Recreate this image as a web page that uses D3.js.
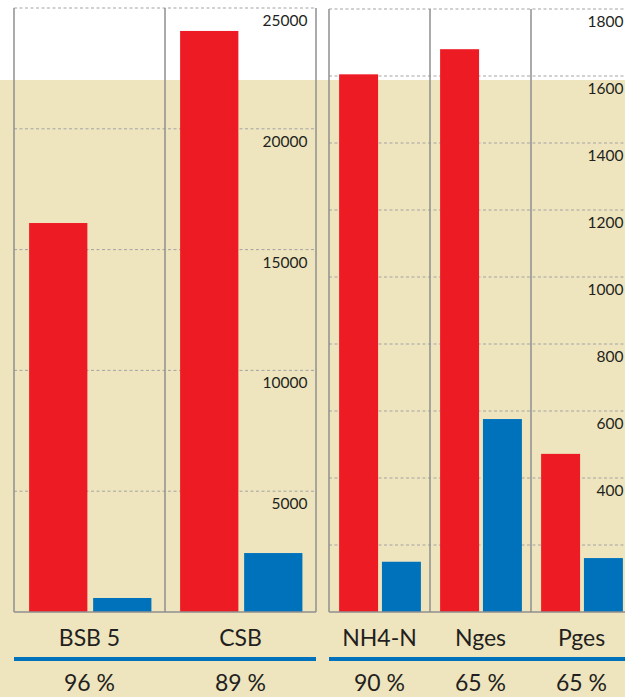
<!DOCTYPE html>
<html><head><meta charset="utf-8">
<script src="https://cdn.jsdelivr.net/npm/d3@7"></script>
<style>html,body{margin:0;padding:0;background:#fff;overflow:hidden}</style>
</head><body>
<svg id="c" width="625" height="697"></svg>
<script>
// ---- data ----
const series = ["Zulauf", "Ablauf"];
const categoriesLeft = ["BSB 5", "CSB"];
const inflowLeft = [16100, 24050];
const outflowLeft = [580, 2440];
const percentLeft = ["96 %", "89 %"];
const ticksLeft = [5000, 10000, 15000, 20000, 25000];
const tickLabelsLeft = [5000, 10000, 15000, 20000, 25000];

const categoriesRight = ["NH4-N", "Nges", "Pges"];
const inflowRight = [1605, 1680, 472];
const outflowRight = [150, 576, 161];
const percentRight = ["90 %", "65 %", "65 %"];
const ticksRight = [200, 400, 600, 800, 1000, 1200, 1400, 1600, 1800];
const tickLabelsRight = [400, 600, 800, 1000, 1200, 1400, 1600, 1800];

// ---- style ----
const W = 625, H = 697;
const beige = "#EEE5BE", red = "#ED1C24", blue = "#0072BC", frame = "#8f8f8f", grid = "#a3a3a3", ink = "#231F20";
const font = "Lato, 'Open Sans', sans-serif";
const y0 = 612;

const svg = d3.select("#c");
svg.append("rect").attr("x", 0).attr("y", 0).attr("width", W).attr("height", H).attr("fill", "#fff");
svg.append("rect").attr("x", 0).attr("y", 80).attr("width", W).attr("height", H - 80).attr("fill", beige);

function panel(cfg) {
  const g = svg.append("g");
  const x0 = d3.scaleBand().domain(cfg.cats).range([cfg.left, cfg.right]);
  const bw = x0.bandwidth();
  const x1 = d3.scaleBand().domain(series).range([0.1 * bw, 0.91 * bw]).paddingInner(0.09);
  const y = d3.scaleLinear().domain([0, cfg.max]).range([y0, cfg.top]);

  // gridlines
  g.append("g").selectAll("line").data(cfg.ticks).join("line")
    .attr("x1", cfg.left).attr("x2", cfg.right)
    .attr("y1", d => y(d)).attr("y2", d => y(d))
    .attr("stroke", grid).attr("stroke-width", 1).attr("stroke-dasharray", "3,2.5");

  // tick labels
  g.append("g").selectAll("text").data(cfg.labels).join("text")
    .attr("x", cfg.right - 8.5).attr("y", d => y(d) + 18)
    .attr("text-anchor", "end").attr("font-family", font).attr("font-size", 15.5)
    .attr("fill", ink).text(d => d);

  // bars
  const rows = cfg.cats.map((c, i) => ({ c, vals: [cfg.inflow[i], cfg.outflow[i]] }));
  const grp = g.append("g").selectAll("g").data(rows).join("g")
    .attr("transform", d => `translate(${x0(d.c)},0)`);
  grp.selectAll("rect").data(d => d.vals.map((v, j) => ({ s: series[j], v }))).join("rect")
    .attr("x", d => x1(d.s)).attr("width", x1.bandwidth())
    .attr("y", d => y(d.v)).attr("height", d => y0 - y(d.v))
    .attr("fill", d => d.s === "Zulauf" ? red : blue);

  // frame verticals
  const edges = cfg.cats.map(c => x0(c)).concat([cfg.right]);
  g.append("g").selectAll("line").data(edges).join("line")
    .attr("x1", d => d).attr("x2", d => d).attr("y1", y(cfg.max)).attr("y2", y0)
    .attr("stroke", frame).attr("stroke-width", 1.5);
  g.append("line").attr("x1", cfg.left).attr("x2", cfg.right).attr("y1", y0).attr("y2", y0)
    .attr("stroke", frame).attr("stroke-width", 1.5);

  // category labels
  g.append("g").selectAll("text").data(cfg.cats).join("text")
    .attr("x", d => x0(d) + bw / 2).attr("y", 645.5)
    .attr("text-anchor", "middle").attr("font-family", font).attr("font-size", 23)
    .attr("fill", ink).text(d => d);

  // blue rule
  g.append("line").attr("x1", cfg.left).attr("x2", cfg.right).attr("y1", 659).attr("y2", 659)
    .attr("stroke", blue).attr("stroke-width", 4);

  // percentages
  g.append("g").selectAll("text").data(cfg.cats).join("text")
    .attr("x", d => x0(d) + bw / 2).attr("y", 690.5)
    .attr("text-anchor", "middle").attr("font-family", font).attr("font-size", 23)
    .attr("fill", ink).text((d, i) => cfg.pct[i]);
}

panel({ cats: categoriesLeft, inflow: inflowLeft, outflow: outflowLeft, pct: percentLeft,
        ticks: ticksLeft, labels: tickLabelsLeft, max: 25000, left: 14, right: 316, top: 8 });
panel({ cats: categoriesRight, inflow: inflowRight, outflow: outflowRight, pct: percentRight,
        ticks: ticksRight, labels: tickLabelsRight, max: 1800, left: 329, right: 632, top: 9 });
</script>
</body></html>
